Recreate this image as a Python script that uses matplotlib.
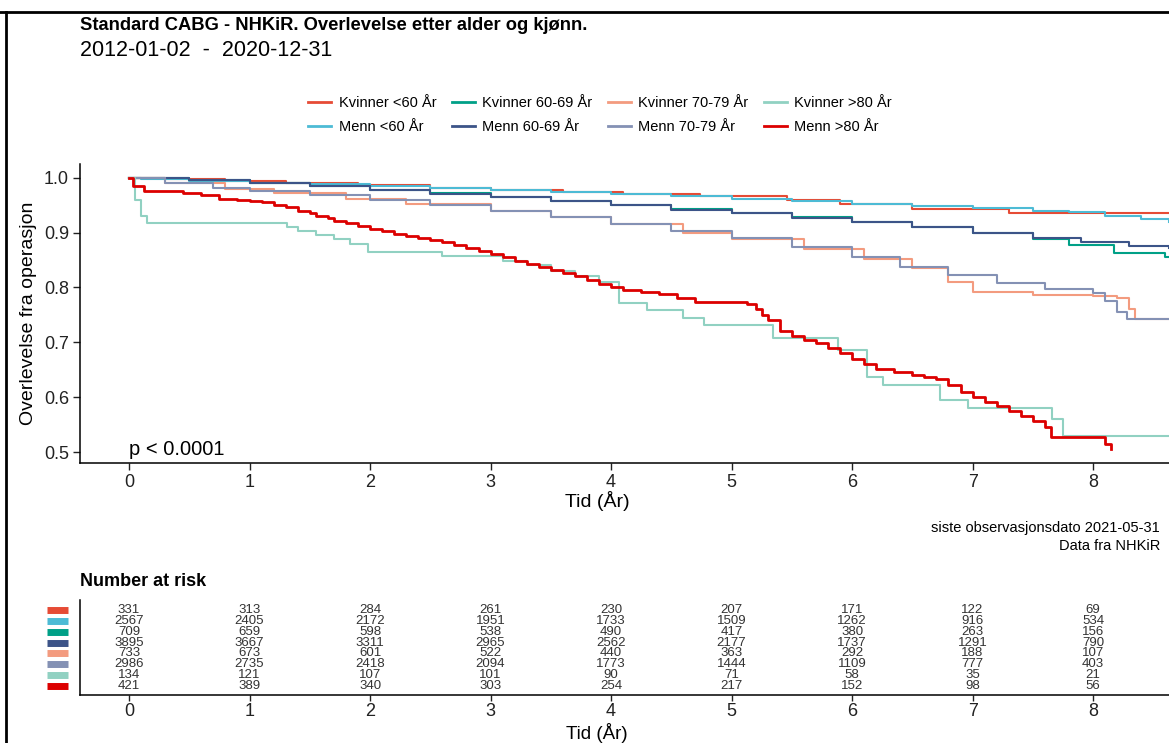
import matplotlib
matplotlib.use("Agg")
import matplotlib.pyplot as plt
from matplotlib.lines import Line2D
import matplotlib.transforms as mtransforms

plt.rcParams['font.family'] = ['Liberation Sans', 'DejaVu Sans']

# strata (survminer order) and npg colours
groups = ["Kvinner <60 År", "Menn <60 År", "Kvinner 60-69 År", "Menn 60-69 År",
          "Kvinner 70-79 År", "Menn 70-79 År", "Kvinner >80 År", "Menn >80 År"]
colors = ["#E64B35", "#4DBBD5", "#00A087", "#3C5488",
          "#F39B7F", "#8491B4", "#91D1C2", "#DC0000"]

# Kaplan-Meier curves (time in years, survival)
t_k60 = [0, 0.3, 0.8, 1.3, 1.9, 2.5, 3.0, 3.6, 4.1, 4.74, 5.46, 5.9, 6.5, 7.3, 8.63]
s_k60 = [1.0, 0.997, 0.994, 0.99, 0.986, 0.982, 0.978, 0.974, 0.97, 0.966, 0.96, 0.953, 0.943, 0.936, 0.936]

t_m60 = [0, 0.1, 0.5, 1.0, 1.5, 2.0, 2.5, 3.0, 3.5, 4.0, 4.5, 5.0, 5.5, 6.0, 6.5, 7.0, 7.5, 7.8, 8.1, 8.4, 8.63]
s_m60 = [1.0, 0.997, 0.994, 0.991, 0.988, 0.985, 0.981, 0.977, 0.974, 0.97, 0.966, 0.962, 0.957, 0.953, 0.948, 0.944, 0.94, 0.937, 0.93, 0.924, 0.92]

t_k6069 = [0, 0.5, 1.0, 1.5, 2.0, 2.5, 3.0, 3.5, 4.0, 4.5, 5.0, 5.5, 6.0, 6.5, 7.0, 7.5, 7.8, 8.17, 8.6, 8.63]
s_k6069 = [1.0, 0.995, 0.99, 0.985, 0.978, 0.972, 0.965, 0.958, 0.951, 0.943, 0.936, 0.928, 0.92, 0.91, 0.9, 0.888, 0.878, 0.863, 0.855, 0.855]

t_m6069 = [0, 0.5, 1.0, 1.5, 2.0, 2.5, 3.0, 3.5, 4.0, 4.5, 5.0, 5.5, 6.0, 6.5, 7.0, 7.5, 7.9, 8.3, 8.63]
s_m6069 = [1.0, 0.995, 0.99, 0.984, 0.978, 0.971, 0.964, 0.957, 0.95, 0.942, 0.935, 0.927, 0.919, 0.91, 0.9, 0.89, 0.882, 0.876, 0.872]

t_k7079 = [0, 0.3, 0.8, 1.2, 1.8, 2.3, 3.0, 3.5, 4.0, 4.6, 5.0, 5.6, 6.1, 6.5, 6.8, 7.0, 7.5, 8.0, 8.2, 8.3, 8.35, 8.63]
s_k7079 = [1.0, 0.99, 0.98, 0.972, 0.962, 0.953, 0.94, 0.928, 0.915, 0.9, 0.888, 0.87, 0.852, 0.835, 0.81, 0.792, 0.787, 0.785, 0.78, 0.76, 0.742, 0.742]

t_m7079 = [0, 0.3, 0.7, 1.0, 1.5, 2.0, 2.5, 3.0, 3.5, 4.0, 4.5, 5.0, 5.5, 6.0, 6.4, 6.8, 7.2, 7.6, 8.0, 8.1, 8.2, 8.28, 8.63]
s_m7079 = [1.0, 0.99, 0.982, 0.976, 0.968, 0.96, 0.95, 0.94, 0.928, 0.916, 0.903, 0.89, 0.873, 0.855, 0.838, 0.822, 0.808, 0.797, 0.79, 0.775, 0.755, 0.742, 0.742]

t_k80 = [0, 0.05, 0.1, 0.15, 1.31, 1.4, 1.55, 1.7, 1.83, 1.98, 2.6, 3.1, 3.3, 3.5, 3.7, 3.9, 4.07, 4.3, 4.6, 4.77, 5.34, 5.88, 6.12, 6.26, 6.73, 6.96, 7.66, 7.75, 8.63]
s_k80 = [1.0, 0.96, 0.93, 0.918, 0.91, 0.902, 0.895, 0.888, 0.88, 0.865, 0.857, 0.848, 0.84, 0.83, 0.82, 0.81, 0.772, 0.759, 0.745, 0.732, 0.708, 0.686, 0.637, 0.622, 0.595, 0.58, 0.56, 0.53, 0.53]

t_m80 = [0, 0.03, 0.12, 0.45, 0.6, 0.75, 0.9, 1.0, 1.1, 1.2, 1.3, 1.4, 1.5, 1.55, 1.65, 1.7, 1.8, 1.9, 2.0, 2.1, 2.2, 2.3, 2.4, 2.5, 2.6,
         2.7, 2.8, 2.9, 3.0, 3.1, 3.2, 3.3, 3.4, 3.5, 3.6, 3.7, 3.8, 3.9, 4.0, 4.1, 4.25, 4.4, 4.55, 4.7,
         5.13, 5.2, 5.25, 5.3, 5.4, 5.5, 5.6, 5.7, 5.8, 5.9, 6.0, 6.1, 6.2, 6.35, 6.5, 6.6, 6.7, 6.8, 6.9, 7.0, 7.1, 7.2,
         7.3, 7.4, 7.5, 7.6, 7.65, 8.05, 8.1, 8.15]
s_m80 = [1.0, 0.985, 0.975, 0.972, 0.968, 0.962, 0.96, 0.958, 0.955, 0.95, 0.946, 0.94, 0.935, 0.93, 0.926, 0.922, 0.917, 0.912, 0.907, 0.902, 0.898, 0.893, 0.89, 0.886, 0.882,
         0.878, 0.872, 0.866, 0.861, 0.855, 0.849, 0.843, 0.838, 0.832, 0.826, 0.82, 0.813, 0.806, 0.8, 0.795, 0.791, 0.788, 0.781, 0.773,
         0.77, 0.76, 0.75, 0.74, 0.72, 0.712, 0.705, 0.698, 0.69, 0.68, 0.67, 0.661, 0.652, 0.646, 0.64, 0.636, 0.633, 0.622, 0.61, 0.6, 0.592, 0.584,
         0.575, 0.566, 0.557, 0.545, 0.527, 0.527, 0.515, 0.505]

curves = [(t_k60, s_k60), (t_m60, s_m60), (t_k6069, s_k6069), (t_m6069, s_m6069),
          (t_k7079, s_k7079), (t_m7079, s_m7079), (t_k80, s_k80), (t_m80, s_m80)]

# number at risk at years 0..8
risk_times = [0, 1, 2, 3, 4, 5, 6, 7, 8]
risk = [
    [331, 313, 284, 261, 230, 207, 171, 122, 69],
    [2567, 2405, 2172, 1951, 1733, 1509, 1262, 916, 534],
    [709, 659, 598, 538, 490, 417, 380, 263, 156],
    [3895, 3667, 3311, 2965, 2562, 2177, 1737, 1291, 790],
    [733, 673, 601, 522, 440, 363, 292, 188, 107],
    [2986, 2735, 2418, 2094, 1773, 1444, 1109, 777, 403],
    [134, 121, 107, 101, 90, 71, 58, 35, 21],
    [421, 389, 340, 303, 254, 217, 152, 98, 56],
]

W, H = 1169, 743
fig = plt.figure(figsize=(W / 100, H / 100), dpi=100)

def px_axes(left, top, right, bottom):
    return fig.add_axes([left / W, 1 - bottom / H, (right - left) / W, (bottom - top) / H])

tick_col = "#222222"
xmin, xmax = -0.407, 8.63

# ---- main survival plot
ax = px_axes(80, 164, 1169, 463)
for (t, s), c in zip(curves, colors):
    lw = 2.0 if c == "#DC0000" else 1.5
    ax.step(t, s, where="post", color=c, lw=lw)
ax.set_xlim(xmin, xmax)
ax.set_ylim(0.48, 1.025)
ax.set_xticks(range(0, 9))
ax.set_yticks([0.5, 0.6, 0.7, 0.8, 0.9, 1.0])
ax.set_yticklabels(["0.5", "0.6", "0.7", "0.8", "0.9", "1.0"])
for sp in ["top", "right"]:
    ax.spines[sp].set_visible(False)
for sp in ["left", "bottom"]:
    ax.spines[sp].set_linewidth(1.1)
ax.tick_params(labelsize=13, colors=tick_col, length=5, width=1.0, pad=3)
ax.set_xlabel("Tid (År)", fontsize=14)
ax.xaxis.set_label_coords((597 - 80) / 1089, -0.094)
ax.set_ylabel("Overlevelse fra operasjon", fontsize=14)
ax.yaxis.set_label_coords(-0.0395, 0.5)
ax.text(0.0, 0.505, "p < 0.0001", fontsize=14.5, ha="left", va="center")

# ---- titles
fig.text(80 / W, 1 - 25 / H, "Standard CABG - NHKiR. Overlevelse etter alder og kjønn.",
         fontsize=13.2, fontweight="bold", va="center")
fig.text(80 / W, 1 - 50 / H, "2012-01-02  -  2020-12-31", fontsize=15.5, va="center")

# ---- legend
handles = [Line2D([0], [0], color=c, lw=2) for c in colors]
fig.legend(handles, groups, ncol=4, loc="center", bbox_to_anchor=(600 / W, 1 - 115 / H),
           frameon=False, fontsize=10.5, handlelength=1.6, handletextpad=0.5,
           columnspacing=1.05, labelspacing=0.7)

# ---- captions
fig.text(1160 / W, 1 - 528 / H, "siste observasjonsdato 2021-05-31", fontsize=10.5,
         ha="right", va="center")
fig.text(1160 / W, 1 - 546 / H, "Data fra NHKiR", fontsize=10.5, ha="right", va="center")

# ---- risk table
fig.text(80 / W, 1 - 581 / H, "Number at risk", fontsize=13, fontweight="bold", va="center")
rax = px_axes(80, 600, 1169, 695)
for i, row in enumerate(risk):
    for x, n in zip(risk_times, row):
        rax.text(x, i, str(n), fontsize=9.5, ha="center", va="center", color="#333333",
                 family=["Liberation Sans Narrow", "Liberation Sans", "DejaVu Sans"])
rax.set_xlim(xmin, xmax)
rax.set_ylim(7.83, -0.92)
rax.set_xticks(range(0, 9))
rax.set_yticks([])
for sp in ["top", "right"]:
    rax.spines[sp].set_visible(False)
for sp in ["left", "bottom"]:
    rax.spines[sp].set_linewidth(1.1)
rax.tick_params(labelsize=13, colors=tick_col, length=4, width=1.0, pad=2)
rax.set_xlabel("Tid (År)", fontsize=13.5)
rax.xaxis.set_label_coords((597 - 80) / 1089, -0.295)
trans = mtransforms.blended_transform_factory(rax.transAxes, rax.transData)
for i, c in enumerate(colors):
    rax.plot([-0.0303, -0.011], [i, i], color=c, lw=5, solid_capstyle="butt",
             transform=trans, clip_on=False)

# ---- outer frame lines (top and left)
fig.add_artist(Line2D([0, 1], [1 - 12 / H, 1 - 12 / H], transform=fig.transFigure, color="black", lw=2))
fig.add_artist(Line2D([6 / W, 6 / W], [0, 1 - 12 / H], transform=fig.transFigure, color="black", lw=2))

fig.savefig("out.png", dpi=100)
